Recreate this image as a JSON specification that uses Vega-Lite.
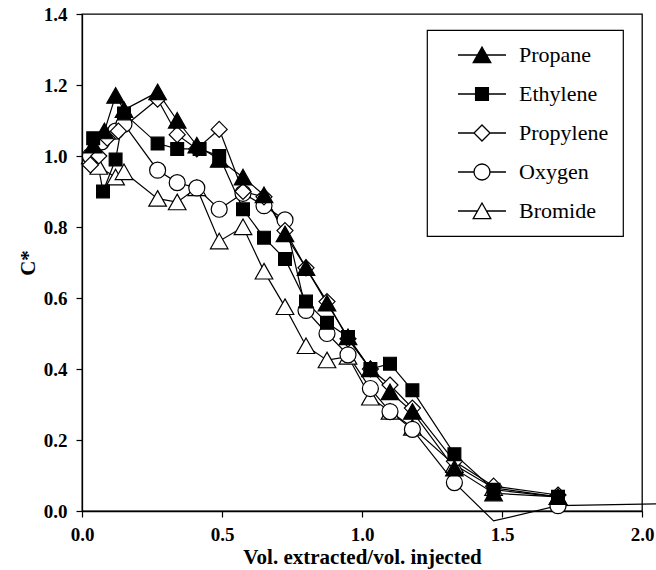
{
  "$schema": "https://vega.github.io/schema/vega-lite/v6.json",
  "width": 560,
  "height": 497,
  "autosize": {"type": "none"},
  "padding": {"left": 82, "top": 14, "right": 14, "bottom": 59},
  "background": "white",
  "config": {
    "font": "Liberation Serif",
    "view": {"stroke": "black", "strokeWidth": 1.3},
    "axis": {
      "grid": false,
      "domainColor": "black",
      "domainWidth": 1.3,
      "tickColor": "black",
      "tickWidth": 1.2,
      "tickSize": 6,
      "labelColor": "black",
      "titleColor": "black",
      "labelFont": "Liberation Serif",
      "titleFont": "Liberation Serif",
      "labelFontSize": 19,
      "labelFontWeight": "bold",
      "titleFontSize": 21,
      "titleFontWeight": "bold",
      "labelFlush": false,
      "labelOverlap": false
    },
    "legend": {"strokeWidth": 1.2, "symbolStrokeWidth": 1.3}
  },
  "data": {
    "values": [
      {"s": "Bromide", "x": 0.03, "y": 1.0},
      {"s": "Bromide", "x": 0.06, "y": 0.97},
      {"s": "Bromide", "x": 0.12, "y": 0.94},
      {"s": "Bromide", "x": 0.15, "y": 0.955},
      {"s": "Bromide", "x": 0.27, "y": 0.88},
      {"s": "Bromide", "x": 0.34, "y": 0.87},
      {"s": "Bromide", "x": 0.41, "y": 0.91},
      {"s": "Bromide", "x": 0.49, "y": 0.76},
      {"s": "Bromide", "x": 0.575, "y": 0.8},
      {"s": "Bromide", "x": 0.65, "y": 0.675},
      {"s": "Bromide", "x": 0.725, "y": 0.575},
      {"s": "Bromide", "x": 0.8, "y": 0.465},
      {"s": "Bromide", "x": 0.875, "y": 0.425},
      {"s": "Bromide", "x": 0.95, "y": 0.435},
      {"s": "Bromide", "x": 1.03, "y": 0.32},
      {"s": "Bromide", "x": 1.1, "y": 0.28},
      {"s": "Bromide", "x": 1.18, "y": 0.235},
      {"s": "Bromide", "x": 1.33, "y": 0.13},
      {"s": "Bromide", "x": 1.47, "y": 0.065},
      {"s": "Bromide", "x": 1.7, "y": 0.04},
      {"s": "Oxygen", "x": 0.03, "y": 1.0},
      {"s": "Oxygen", "x": 0.07, "y": 1.04},
      {"s": "Oxygen", "x": 0.12, "y": 1.07},
      {"s": "Oxygen", "x": 0.15, "y": 1.09},
      {"s": "Oxygen", "x": 0.27, "y": 0.96},
      {"s": "Oxygen", "x": 0.34, "y": 0.925},
      {"s": "Oxygen", "x": 0.41, "y": 0.91},
      {"s": "Oxygen", "x": 0.49, "y": 0.85},
      {"s": "Oxygen", "x": 0.575, "y": 0.895},
      {"s": "Oxygen", "x": 0.65, "y": 0.86},
      {"s": "Oxygen", "x": 0.725, "y": 0.82},
      {"s": "Oxygen", "x": 0.8, "y": 0.565},
      {"s": "Oxygen", "x": 0.875, "y": 0.5},
      {"s": "Oxygen", "x": 0.95, "y": 0.44},
      {"s": "Oxygen", "x": 1.03, "y": 0.345},
      {"s": "Oxygen", "x": 1.1, "y": 0.28},
      {"s": "Oxygen", "x": 1.18, "y": 0.23},
      {"s": "Oxygen", "x": 1.33, "y": 0.08},
      {"s": "Oxygen", "x": 1.47, "y": -0.028},
      {"s": "Oxygen", "x": 1.7, "y": 0.015},
      {"s": "Oxygen", "x": 2.2, "y": 0.022},
      {"s": "Propylene", "x": 0.03, "y": 0.975},
      {"s": "Propylene", "x": 0.06, "y": 1.0},
      {"s": "Propylene", "x": 0.09, "y": 1.05},
      {"s": "Propylene", "x": 0.13, "y": 1.07},
      {"s": "Propylene", "x": 0.27, "y": 1.16},
      {"s": "Propylene", "x": 0.34, "y": 1.06},
      {"s": "Propylene", "x": 0.41, "y": 1.02},
      {"s": "Propylene", "x": 0.49, "y": 1.075},
      {"s": "Propylene", "x": 0.575, "y": 0.9},
      {"s": "Propylene", "x": 0.65, "y": 0.885},
      {"s": "Propylene", "x": 0.725, "y": 0.79},
      {"s": "Propylene", "x": 0.8, "y": 0.685},
      {"s": "Propylene", "x": 0.875, "y": 0.59},
      {"s": "Propylene", "x": 0.95, "y": 0.485},
      {"s": "Propylene", "x": 1.03, "y": 0.4},
      {"s": "Propylene", "x": 1.1, "y": 0.355},
      {"s": "Propylene", "x": 1.18, "y": 0.29},
      {"s": "Propylene", "x": 1.33, "y": 0.14},
      {"s": "Propylene", "x": 1.47, "y": 0.07},
      {"s": "Propylene", "x": 1.7, "y": 0.045},
      {"s": "Ethylene", "x": 0.04, "y": 1.05},
      {"s": "Ethylene", "x": 0.075, "y": 0.9},
      {"s": "Ethylene", "x": 0.12, "y": 0.99},
      {"s": "Ethylene", "x": 0.15, "y": 1.12},
      {"s": "Ethylene", "x": 0.27, "y": 1.035},
      {"s": "Ethylene", "x": 0.34, "y": 1.02},
      {"s": "Ethylene", "x": 0.42, "y": 1.02},
      {"s": "Ethylene", "x": 0.49, "y": 1.0},
      {"s": "Ethylene", "x": 0.575, "y": 0.85},
      {"s": "Ethylene", "x": 0.65, "y": 0.77},
      {"s": "Ethylene", "x": 0.725, "y": 0.71},
      {"s": "Ethylene", "x": 0.8, "y": 0.59},
      {"s": "Ethylene", "x": 0.875, "y": 0.53},
      {"s": "Ethylene", "x": 0.95, "y": 0.49},
      {"s": "Ethylene", "x": 1.03, "y": 0.4},
      {"s": "Ethylene", "x": 1.1, "y": 0.415},
      {"s": "Ethylene", "x": 1.18, "y": 0.34},
      {"s": "Ethylene", "x": 1.33, "y": 0.16},
      {"s": "Ethylene", "x": 1.47, "y": 0.06},
      {"s": "Ethylene", "x": 1.7, "y": 0.04},
      {"s": "Propane", "x": 0.04, "y": 1.03},
      {"s": "Propane", "x": 0.08, "y": 1.07},
      {"s": "Propane", "x": 0.12, "y": 1.17},
      {"s": "Propane", "x": 0.15, "y": 1.13},
      {"s": "Propane", "x": 0.27, "y": 1.18},
      {"s": "Propane", "x": 0.34, "y": 1.1},
      {"s": "Propane", "x": 0.41, "y": 1.03},
      {"s": "Propane", "x": 0.49, "y": 0.99},
      {"s": "Propane", "x": 0.575, "y": 0.94},
      {"s": "Propane", "x": 0.65, "y": 0.89},
      {"s": "Propane", "x": 0.725, "y": 0.78},
      {"s": "Propane", "x": 0.8, "y": 0.685},
      {"s": "Propane", "x": 0.875, "y": 0.585},
      {"s": "Propane", "x": 0.95, "y": 0.49},
      {"s": "Propane", "x": 1.03, "y": 0.4},
      {"s": "Propane", "x": 1.1, "y": 0.335},
      {"s": "Propane", "x": 1.18, "y": 0.28},
      {"s": "Propane", "x": 1.33, "y": 0.12},
      {"s": "Propane", "x": 1.47, "y": 0.05},
      {"s": "Propane", "x": 1.7, "y": 0.04}
    ]
  },
  "encoding": {
    "x": {
      "field": "x",
      "type": "quantitative",
      "scale": {"domain": [0, 2], "nice": false, "zero": false},
      "axis": {
        "title": "Vol. extracted/vol. injected",
        "values": [0, 0.5, 1, 1.5, 2],
        "format": ".1f",
        "labelPadding": 8,
        "titlePadding": 2
      }
    },
    "y": {
      "field": "y",
      "type": "quantitative",
      "scale": {"domain": [0, 1.4], "nice": false, "zero": false},
      "axis": {
        "title": "C*",
        "values": [0, 0.2, 0.4, 0.6, 0.8, 1.0, 1.2, 1.4],
        "format": ".1f",
        "labelPadding": 9,
        "titlePadding": 5
      }
    }
  },
  "layer": [
    {
      "mark": {"type": "line", "stroke": "black", "strokeWidth": 1.2},
      "encoding": {"detail": {"field": "s", "type": "nominal"}}
    },
    {
      "transform": [{"filter": "datum.y >= 0 && datum.x <= 2"}],
      "mark": {"type": "point", "stroke": "black", "strokeWidth": 1.2, "opacity": 1, "size": 256},
      "encoding": {
        "shape": {
          "field": "s",
          "type": "nominal",
          "scale": {
            "domain": ["Propane", "Ethylene", "Propylene", "Oxygen", "Bromide"],
            "range": [
              "M 0 -1 L 1.1 0.95 L -1.1 0.95 Z",
              "M -0.8 -0.8 H 0.8 V 0.8 H -0.8 Z",
              "M 0 -1 L 1 0 L 0 1 L -1 0 Z",
              "M -1 0 A 1 1 0 1 0 1 0 A 1 1 0 1 0 -1 0 Z",
              "M 0 -1 L 1.1 0.95 L -1.1 0.95 Z"
            ]
          },
          "legend": null
        },
        "fill": {
          "field": "s",
          "type": "nominal",
          "scale": {
            "domain": ["Propane", "Ethylene", "Propylene", "Oxygen", "Bromide"],
            "range": ["black", "black", "white", "white", "white"]
          },
          "legend": null
        }
      }
    },
    {
      "transform": [{"filter": "datum.y >= 0 && datum.x <= 2"}],
      "mark": {"type": "point", "strokeWidth": 1.3, "opacity": 1, "size": 0},
      "encoding": {
        "shape": {
          "field": "s",
          "type": "nominal",
          "scale": {
            "domain": ["Propane", "Ethylene", "Propylene", "Oxygen", "Bromide"],
            "range": [
              "M -3 0 H 3 M 0 -1 L 1.1 0.95 L -1.1 0.95 Z",
              "M -3 0 H 3 M -0.8 -0.8 H 0.8 V 0.8 H -0.8 Z",
              "M -3 0 H -1 M 1 0 H 3 M 0 -1 L 1 0 L 0 1 L -1 0 Z",
              "M -3 0 H -1 M 1 0 H 3 M -1 0 A 1 1 0 1 0 1 0 A 1 1 0 1 0 -1 0 Z",
              "M -3 0 H -0.56 M 0.56 0 H 3 M 0 -1 L 1.1 0.95 L -1.1 0.95 Z"
            ]
          },
          "legend": {
            "title": null,
            "orient": "none",
            "legendX": 345,
            "legendY": 16,
            "padding": 14,
            "strokeColor": "black",
            "fillColor": "white",
            "symbolSize": 256,
            "symbolStrokeWidth": 1.3,
            "symbolOffset": 30,
            "labelOffset": 26,
            "rowPadding": 17,
            "labelFont": "Liberation Serif",
            "labelFontSize": 22,
            "labelFontWeight": "normal",
            "labelColor": "black",
            "labelLimit": 300
          }
        },
        "fill": {
          "field": "s",
          "type": "nominal",
          "scale": {
            "domain": ["Propane", "Ethylene", "Propylene", "Oxygen", "Bromide"],
            "range": ["black", "black", "white", "white", "white"]
          },
          "legend": {
            "title": null,
            "orient": "none",
            "legendX": 345,
            "legendY": 16,
            "padding": 14,
            "strokeColor": "black",
            "fillColor": "white",
            "symbolSize": 256,
            "symbolStrokeWidth": 1.3,
            "symbolOffset": 30,
            "labelOffset": 26,
            "rowPadding": 17,
            "labelFont": "Liberation Serif",
            "labelFontSize": 22,
            "labelFontWeight": "normal",
            "labelColor": "black",
            "labelLimit": 300
          }
        },
        "stroke": {
          "field": "s",
          "type": "nominal",
          "scale": {
            "domain": ["Propane", "Ethylene", "Propylene", "Oxygen", "Bromide"],
            "range": ["black", "black", "black", "black", "black"]
          },
          "legend": {
            "title": null,
            "orient": "none",
            "legendX": 345,
            "legendY": 16,
            "padding": 14,
            "strokeColor": "black",
            "fillColor": "white",
            "symbolSize": 256,
            "symbolStrokeWidth": 1.3,
            "symbolOffset": 30,
            "labelOffset": 26,
            "rowPadding": 17,
            "labelFont": "Liberation Serif",
            "labelFontSize": 22,
            "labelFontWeight": "normal",
            "labelColor": "black",
            "labelLimit": 300
          }
        }
      }
    }
  ],
  "resolve": {"scale": {"shape": "independent", "fill": "independent", "stroke": "independent"}}
}
